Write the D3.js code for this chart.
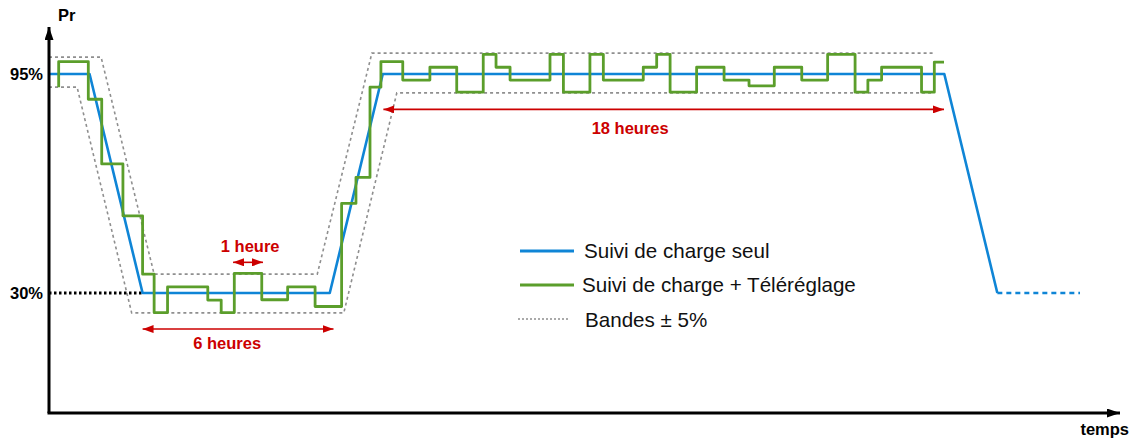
<!DOCTYPE html>
<html>
<head>
<meta charset="utf-8">
<script src="https://cdn.jsdelivr.net/npm/d3@7"></script>
<style>
  html, body { margin: 0; padding: 0; background: #fff; }
  svg { display: block; font-family: "Liberation Sans", Arial, sans-serif; }
</style>
</head>
<body>
<div id="chart"></div>
<script>
// time in hours (0 = start of the 30% plateau), power in % of Pr
const blueSolid = [[-3, 95], [-1.7, 95], [0, 30], [6, 30], [7.7, 95], [25.7, 95], [27.4, 30]];
const blueDashed = [[27.4, 30], [30.05, 30]];

const bandUpper = [[-3, 100], [-1.33, 100], [0.37, 35.6], [5.6, 35.6], [7.35, 101.2], [25.35, 101.2]];
const bandLower = [[-3, 91.1], [-2.1, 91.1], [-0.35, 24.1], [6.45, 24.1], [8.15, 89.4], [25.35, 89.4]];

// step function: value holds from t until the next t
const greenSteps = [
  [-2.69, 91.1], [-2.69, 98.7], [-1.74, 87.5], [-1.31, 68.3], [-0.63, 52.9],
  [0.0, 35.6], [0.37, 24.2], [0.8, 31.8], [2.09, 27.9], [2.52, 24.2],
  [2.94, 35.8], [3.82, 28.0], [4.65, 31.8], [5.53, 26.0], [6.38, 56.6],
  [6.84, 64.3], [7.29, 91.1], [7.64, 98.7], [8.34, 93.2], [9.21, 97.0],
  [10.07, 89.6], [10.92, 100.8], [11.33, 97.0], [11.78, 93.2], [13.06, 100.8],
  [13.49, 89.6], [14.34, 100.8], [14.77, 93.2], [16.05, 97.0], [16.48, 100.8],
  [16.91, 89.6], [17.76, 97.0], [18.64, 93.2], [19.44, 91.5], [20.25, 97.0],
  [21.13, 93.2], [21.96, 100.8], [22.84, 89.6], [23.25, 93.2], [23.69, 97.0],
  [24.97, 89.6], [25.38, 98.5], [25.69, 98.5]
];

const yTicks = [30, 95];

const legendLabels = ["Suivi de charge seul", "Suivi de charge + Téléréglage", "Bandes ± 5%"];

// duration arrows: from t1 to t2 at level v, label at (lt, lv)
const spans = [
  { label: "1 heure", t1: 2.9, t2: 3.86, v: 39.1, lt: 3.45, lv: 42.2 },
  { label: "6 heures", t1: 0, t2: 6.12, v: 19.3, lt: 2.71, lv: 13.4 },
  { label: "18 heures", t1: 7.72, t2: 25.69, v: 84.5, lt: 15.63, lv: 77.3 }
];

const W = 1132, H = 442;
const blue = "#0f85d6", green = "#5b9e2b", red = "#cc0000", grey = "#8f8f8f";

const svg = d3.select("#chart").append("svg")
  .attr("width", W)
  .attr("height", H);

const x = d3.scaleLinear().domain([-3, 31.3]).range([49, 1119]);
const y = d3.scaleLinear().domain([30, 95]).range([293, 74]);

// markers
const defs = svg.append("defs");
defs.append("marker")
  .attr("id", "arrowBlack")
  .attr("markerUnits", "userSpaceOnUse")
  .attr("markerWidth", 13).attr("markerHeight", 9)
  .attr("refX", 13).attr("refY", 4.5)
  .attr("orient", "auto")
  .append("path").attr("d", "M0,0 L13,4.5 L0,9 Z").attr("fill", "#000");
defs.append("marker")
  .attr("id", "arrowRed")
  .attr("markerUnits", "userSpaceOnUse")
  .attr("markerWidth", 11).attr("markerHeight", 8)
  .attr("refX", 11).attr("refY", 4)
  .attr("orient", "auto-start-reverse")
  .append("path").attr("d", "M0,0 L11,4 L0,8 Z").attr("fill", red);

const line = d3.line().x((d) => x(d[0])).y((d) => y(d[1]));

// bands
[bandUpper, bandLower].forEach((b) => {
  svg.append("path")
    .attr("d", line(b))
    .attr("fill", "none")
    .attr("stroke", grey)
    .attr("stroke-width", 1.6)
    .attr("stroke-dasharray", "3,3");
});

// dotted 30% reference
svg.append("line")
  .attr("x1", x(-3)).attr("x2", x(0))
  .attr("y1", y(30)).attr("y2", y(30))
  .attr("stroke", "#000")
  .attr("stroke-width", 3)
  .attr("stroke-dasharray", "2.5,2.5");

// blue: load following only
svg.append("path")
  .attr("d", line(blueSolid))
  .attr("fill", "none")
  .attr("stroke", blue)
  .attr("stroke-width", 2.6)
  .attr("stroke-linejoin", "round");
svg.append("path")
  .attr("d", line(blueDashed))
  .attr("fill", "none")
  .attr("stroke", blue)
  .attr("stroke-width", 2.6)
  .attr("stroke-dasharray", "5,4");

// green: load following + remote control
svg.append("path")
  .attr("d", d3.line().curve(d3.curveStepAfter).x((d) => x(d[0])).y((d) => y(d[1]))(greenSteps))
  .attr("fill", "none")
  .attr("stroke", green)
  .attr("stroke-width", 2.8)
  .attr("stroke-linejoin", "round");

// axes
svg.append("line")
  .attr("x1", x(-3)).attr("y1", 413)
  .attr("x2", x(-3)).attr("y2", 27)
  .attr("stroke", "#000").attr("stroke-width", 3)
  .attr("marker-end", "url(#arrowBlack)");
svg.append("line")
  .attr("x1", x(-3) - 1.5).attr("y1", 413)
  .attr("x2", 1120).attr("y2", 413)
  .attr("stroke", "#000").attr("stroke-width", 3)
  .attr("marker-end", "url(#arrowBlack)");

const yAxis = svg.append("g")
  .attr("transform", "translate(" + x(-3) + ",0)")
  .call(d3.axisLeft(y).tickValues(yTicks).tickSize(0).tickPadding(6).tickFormat((d) => d + "%"));
yAxis.select(".domain").remove();
yAxis.selectAll("text")
  .attr("font-family", "Liberation Sans, Arial, sans-serif")
  .attr("font-size", 16.5)
  .attr("font-weight", "bold")
  .attr("fill", "#000")
  .attr("dy", "0.36em");

svg.append("text")
  .attr("x", 58).attr("y", 21)
  .attr("font-size", 16.5)
  .attr("font-weight", "bold")
  .text("Pr");
svg.append("text")
  .attr("x", 1129).attr("y", 435)
  .attr("text-anchor", "end")
  .attr("font-size", 16.5)
  .attr("font-weight", "bold")
  .text("temps");

// duration annotations
spans.forEach((s) => {
  svg.append("line")
    .attr("x1", x(s.t1)).attr("x2", x(s.t2))
    .attr("y1", y(s.v)).attr("y2", y(s.v))
    .attr("stroke", red)
    .attr("stroke-width", 1.6)
    .attr("marker-start", "url(#arrowRed)")
    .attr("marker-end", "url(#arrowRed)");
  svg.append("text")
    .attr("x", x(s.lt)).attr("y", y(s.lv))
    .attr("text-anchor", "middle")
    .attr("font-size", 16.5)
    .attr("font-weight", "bold")
    .attr("fill", red)
    .text(s.label);
});

// legend
const legendStyles = [
  { color: blue, width: 2.8, dash: null, x1: 520, x2: 574, tx: 584 },
  { color: green, width: 2.8, dash: null, x1: 520, x2: 574, tx: 582 },
  { color: grey, width: 1.4, dash: "2,2", x1: 518, x2: 568, tx: 585 }
];
const legend = svg.append("g");
legend.selectAll("line")
  .data(legendLabels)
  .enter()
  .append("line")
  .attr("x1", (d, i) => legendStyles[i].x1)
  .attr("x2", (d, i) => legendStyles[i].x2)
  .attr("y1", (d, i) => 251 + i * 34)
  .attr("y2", (d, i) => 251 + i * 34)
  .attr("stroke", (d, i) => legendStyles[i].color)
  .attr("stroke-width", (d, i) => legendStyles[i].width)
  .attr("stroke-dasharray", (d, i) => legendStyles[i].dash);
legend.selectAll("text")
  .data(legendLabels)
  .enter()
  .append("text")
  .attr("x", (d, i) => legendStyles[i].tx)
  .attr("y", (d, i) => 258 + i * 34.3)
  .attr("font-size", 20.6)
  .attr("fill", "#111")
  .text((d) => d);
</script>
</body>
</html>
